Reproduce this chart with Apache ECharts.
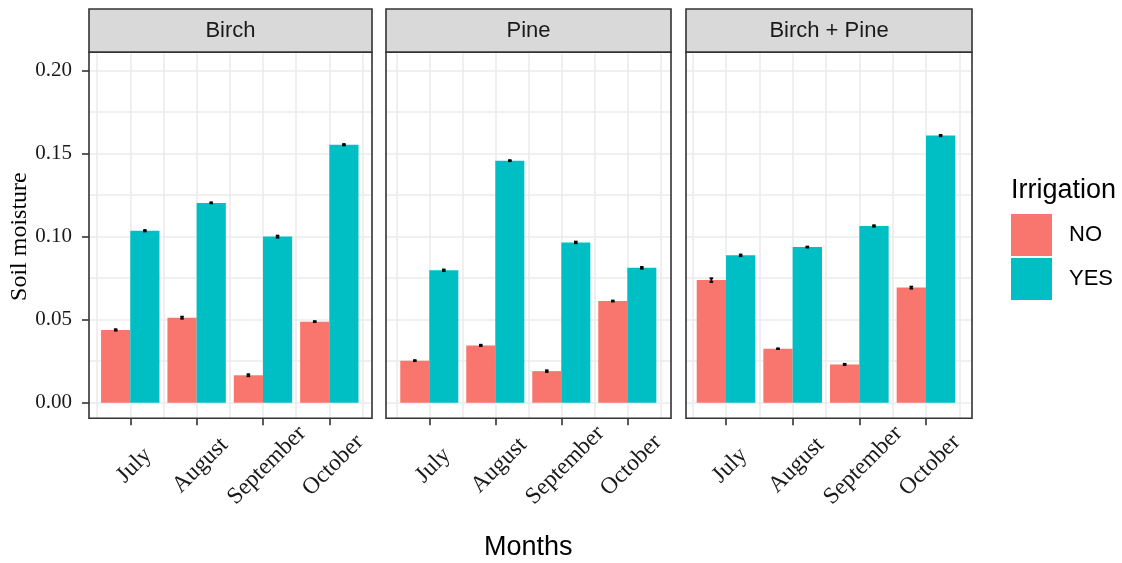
<!DOCTYPE html>
<html>
<head>
<meta charset="utf-8">
<script src="https://cdn.jsdelivr.net/npm/echarts@6/dist/echarts.min.js"></script>
<style>
html,body{margin:0;padding:0;background:#fff;}
#chart{width:1122px;height:563px;}
</style>
</head>
<body>
<div id="chart"></div>
<script>
// ---------------- data ----------------
const categories = ['July', 'August', 'September', 'October'];
const panelNames = ['Birch', 'Pine', 'Birch + Pine'];
const seriesNames = ['NO', 'YES'];

const birchNo  = [0.0438, 0.0512, 0.0165, 0.0488];
const birchYes = [0.1035, 0.1203, 0.1000, 0.1553];
const pineNo   = [0.0253, 0.0345, 0.0190, 0.0612];
const pineYes  = [0.0797, 0.1457, 0.0965, 0.0812];
const mixNo    = [0.0738, 0.0325, 0.0230, 0.0693];
const mixYes   = [0.0887, 0.0937, 0.1064, 0.1608];

const birchNoSe  = [0.0004, 0.0006, 0.0006, 0.0003];
const birchYesSe = [0.0004, 0.0003, 0.0006, 0.0004];
const pineNoSe   = [0.0003, 0.0004, 0.0005, 0.0003];
const pineYesSe  = [0.0005, 0.0003, 0.0005, 0.0005];
const mixNoSe    = [0.0011, 0.0002, 0.0004, 0.0006];
const mixYesSe   = [0.0005, 0.0003, 0.0004, 0.0004];

const yMin = 0, yMax = 0.2, yStep = 0.05;

const panelValues = [[birchNo, birchYes], [pineNo, pineYes], [mixNo, mixYes]];
const panelSe = [[birchNoSe, birchYesSe], [pineNoSe, pineYesSe], [mixNoSe, mixYesSe]];

// ---------------- layout / style ----------------
const COLORS = ['#F8766D', '#00BFC4'];
const PANEL_LEFT = [89, 386, 686];
const PANEL_W = [283, 285, 286];
const BAND_LEFT = [97.1, 396.3, 692.7];
const BAND_W = [265.4, 264, 266.6];
const STRIP_TOP = 9;
const PANEL_TOP = 52.3;
const PANEL_BOTTOM = 418.3;
const Y_TOP_PX = 70.5;    // pixel of yMax
const Y_ZERO_PX = 402.7;  // pixel of yMin
const pxPerUnit = (Y_ZERO_PX - Y_TOP_PX) / (yMax - yMin);
const yLo = yMin - (PANEL_BOTTOM - Y_ZERO_PX) / pxPerUnit;
const yHi = yMax + (Y_TOP_PX - PANEL_TOP) / pxPerUnit;

const SERIF = '"Liberation Serif", "Times New Roman", serif';
const SANS = '"Liberation Sans", Arial, sans-serif';
const GRID_COLOR = '#EBEBEB';
const DARK = '#333333';

const grids = [], xAxes = [], yAxes = [], series = [], graphics = [];

function errRender(sign) {
  return function (params, api) {
    const i = api.value(0), v = api.value(1), s = api.value(2);
    const band = api.size([1, 0])[0];
    const dx = sign * band * 0.22;
    const top = api.coord([i, v + s]);
    const bot = api.coord([i, v - s]);
    const x = top[0] + dx;
    const cap = 1.8;
    const st = { stroke: '#000', lineWidth: 1.8 };
    return {
      type: 'group',
      children: [
        { type: 'line', shape: { x1: x, y1: top[1] - 0.6, x2: x, y2: bot[1] + 0.6 }, style: st },
        { type: 'line', shape: { x1: x - cap, y1: top[1], x2: x + cap, y2: top[1] }, style: st },
        { type: 'line', shape: { x1: x - cap, y1: bot[1], x2: x + cap, y2: bot[1] }, style: st }
      ]
    };
  };
}

for (let p = 0; p < 3; p++) {
  // grid for horizontal lines and y labels (full panel width)
  grids.push({ left: PANEL_LEFT[p], width: PANEL_W[p], top: Y_TOP_PX, height: Y_ZERO_PX - Y_TOP_PX, containLabel: false, outerBoundsMode: 'none' });
  // grid for bars and vertical lines (full panel height)
  grids.push({ left: BAND_LEFT[p], width: BAND_W[p], top: PANEL_TOP, height: PANEL_BOTTOM - PANEL_TOP, containLabel: false, outerBoundsMode: 'none' });

  xAxes.push({ gridIndex: 2 * p, type: 'value', min: 0, max: 1, show: false });
  xAxes.push({
    gridIndex: 2 * p + 1, type: 'category', data: categories, boundaryGap: true, position: 'bottom',
    axisLine: { show: false, onZero: false },
    axisTick: { show: true, alignWithLabel: true, length: 7, lineStyle: { color: DARK, width: 1.6 } },
    axisLabel: {
      interval: 0, rotate: 45, align: 'center', verticalAlign: 'middle', margin: 51, padding: [8, 0, 0, 11],
      fontFamily: SERIF, fontSize: 23.5, color: '#1a1a1a'
    },
    splitLine: { show: false },
    name: p === 1 ? 'Months' : '', nameLocation: 'middle', nameGap: 116,
    nameTextStyle: { fontFamily: SANS, fontSize: 27, color: '#000' }
  });
  xAxes.push({
    gridIndex: 2 * p + 1, type: 'value', min: 0.5, max: 4.5, interval: 0.5, position: 'top',
    axisLine: { show: false, onZero: false }, axisTick: { show: false }, axisLabel: { show: false },
    splitLine: { show: true, lineStyle: { color: GRID_COLOR, width: 1.6 } }
  });

  yAxes.push({
    gridIndex: 2 * p, type: 'value', min: yMin, max: yMax, interval: yStep,
    axisLine: { show: false, onZero: false },
    axisTick: { show: p === 0, length: 7, lineStyle: { color: DARK, width: 1.6 } },
    axisLabel: {
      show: p === 0, margin: 17, fontFamily: SERIF, fontSize: 21, color: '#1a1a1a',
      formatter: v => v.toFixed(2)
    },
    splitLine: { show: true, lineStyle: { color: GRID_COLOR, width: 1.6 } },
    minorTick: { show: false, splitNumber: 2 },
    minorSplitLine: { show: true, lineStyle: { color: GRID_COLOR, width: 1.6 } },
    name: p === 0 ? 'Soil moisture' : '', nameLocation: 'middle', nameGap: 57, nameRotate: 90,
    nameTextStyle: { fontFamily: SERIF, fontSize: 24, color: '#000' }
  });
  yAxes.push({ gridIndex: 2 * p + 1, type: 'value', min: yLo, max: yHi, show: false });

  for (let s = 0; s < 2; s++) {
    series.push({
      type: 'bar', name: seriesNames[s],
      xAxisIndex: 3 * p + 1, yAxisIndex: 2 * p + 1,
      data: panelValues[p][s],
      barWidth: '44%', barGap: '0%',
      itemStyle: { color: COLORS[s] },
      emphasis: { disabled: true }, silent: true, z: 3
    });
  }
  for (let s = 0; s < 2; s++) {
    series.push({
      type: 'custom', name: seriesNames[s] + ' se',
      xAxisIndex: 3 * p + 1, yAxisIndex: 2 * p + 1,
      data: categories.map((c, i) => [i, panelValues[p][s][i], panelSe[p][s][i]]),
      renderItem: errRender(s === 0 ? -1 : 1),
      clip: false, silent: true, z: 5
    });
  }

  // strip
  graphics.push({
    type: 'rect', z: 100,
    shape: { x: PANEL_LEFT[p], y: STRIP_TOP, width: PANEL_W[p], height: PANEL_TOP - STRIP_TOP },
    style: { fill: '#D9D9D9', stroke: DARK, lineWidth: 1.6 }
  });
  graphics.push({
    type: 'text', z: 101,
    x: PANEL_LEFT[p] + PANEL_W[p] / 2, y: (STRIP_TOP + PANEL_TOP) / 2,
    style: { text: panelNames[p], fontFamily: SANS, fontSize: 22, fill: '#1A1A1A', textAlign: 'center', textVerticalAlign: 'middle' }
  });
  // panel border
  graphics.push({
    type: 'rect', z: 100,
    shape: { x: PANEL_LEFT[p], y: PANEL_TOP, width: PANEL_W[p], height: PANEL_BOTTOM - PANEL_TOP },
    style: { fill: null, stroke: DARK, lineWidth: 1.6 }
  });
}

const chart = echarts.init(document.getElementById('chart'), null, { renderer: 'canvas' });
chart.setOption({
  animation: false,
  backgroundColor: '#fff',
  title: {
    text: 'Irrigation', left: 1011, top: 177, padding: 0,
    textStyle: { fontFamily: SANS, fontSize: 27, fontWeight: 'normal', color: '#000' }
  },
  legend: {
    orient: 'vertical', left: 1011, top: 214, padding: 0,
    itemWidth: 41, itemHeight: 42, itemGap: 2, icon: 'rect',
    data: seriesNames, selectedMode: false,
    textStyle: { fontFamily: SANS, fontSize: 22, color: '#000', padding: [0, 0, 0, 12] }
  },
  grid: grids,
  xAxis: xAxes,
  yAxis: yAxes,
  series: series,
  graphic: { elements: graphics }
});
</script>
</body>
</html>
